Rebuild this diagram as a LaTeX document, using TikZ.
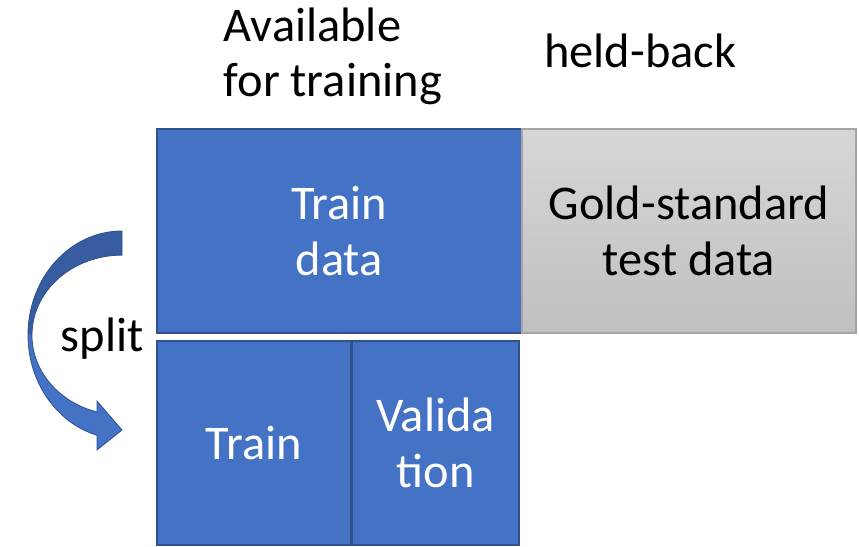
\documentclass[tikz,border=0pt]{standalone}
\usepackage{fontspec}
\setmainfont{Carlito}
\definecolor{blueF}{HTML}{4472C4}
\definecolor{blueD}{HTML}{2F528F}
\definecolor{blueDark}{HTML}{375C9F}
\definecolor{grayD}{HTML}{A5A5A5}
\definecolor{grayTop}{HTML}{D6D6D6}
\definecolor{grayBot}{HTML}{C0C0C0}
\begin{document}
\begin{tikzpicture}[x=1pt,y=1pt,
  txt/.style={font=\fontsize{48.4}{55.5}\selectfont},
  bluebox/.style={draw=blueD, line width=1.5pt, fill=blueF, text=white, inner sep=0pt, align=center, txt, minimum height=204pt},
  graybox/.style={draw=grayD, line width=1.5pt, top color=grayTop, bottom color=grayBot, text=black, inner sep=0pt, align=center, txt, minimum height=204pt},
  plainlabel/.style={txt, inner sep=0pt, align=left}]
\useasboundingbox (0,0) rectangle (859,546);
% boxes
\node[bluebox, minimum width=364.5pt] (traindata) at (339.2,315) {Train\\data};
\node[graybox, minimum width=334pt] (gold) at (689,315) {Gold-standard\\test data};
\node[bluebox, minimum width=193.5pt] (train) at (253.7,103) {Train};
\node[bluebox, minimum width=167pt] (valid) at (435.5,103) {Valida\\tion};
% labels
\node[plainlabel, anchor=base west] (avail) at (223.5,449) {Available\\for training};
\node[plainlabel, anchor=base west] (held) at (544,478) {held-back};
\node[plainlabel, anchor=base west] (split) at (60.5,194) {split};
% curved arrow
\fill[blueF] (122,315) arc[start angle=90, end angle=254.6, x radius=94pt, y radius=104pt]
  -- (97,96) -- (122,116) -- (97,145) -- (97,134)
  arc[start angle=253.9, end angle=90, x radius=90pt, y radius=80pt] -- cycle;
\fill[blueDark] (122,315) arc[start angle=90, end angle=180, x radius=94pt, y radius=104pt]
  -- (32,211) arc[start angle=180, end angle=90, x radius=90pt, y radius=80pt] -- cycle;
\draw[blueD, line width=0.8pt, line join=miter] (122,315) arc[start angle=90, end angle=254.6, x radius=94pt, y radius=104pt]
  -- (97,96) -- (122,116) -- (97,145) -- (97,134)
  arc[start angle=253.9, end angle=90, x radius=90pt, y radius=80pt] -- cycle;
\end{tikzpicture}
\end{document}
